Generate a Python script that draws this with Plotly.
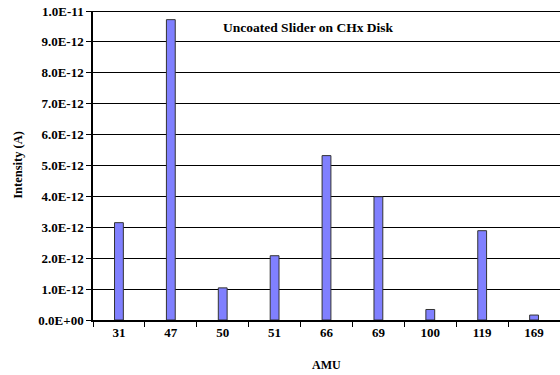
import plotly.graph_objects as go

categories = ["31", "47", "50", "51", "66", "69", "100", "119", "169"]
intensity = [3.15e-12, 9.72e-12, 1.04e-12, 2.08e-12, 5.32e-12, 3.99e-12, 0.34e-12, 2.89e-12, 0.16e-12]
ytick_vals = [i * 1e-12 for i in range(11)]
ytick_text = ["0.0E+00", "1.0E-12", "2.0E-12", "3.0E-12", "4.0E-12", "5.0E-12",
              "6.0E-12", "7.0E-12", "8.0E-12", "9.0E-12", "1.0E-11"]

FF = "Liberation Serif"
L, R, T, B = 93, 0, 11, 54.5
W, H = 560, 375
PW, PH = W - L - R, H - T - B

fig = go.Figure()
fig.add_trace(go.Bar(
    x=categories, y=intensity, width=0.17,
    marker=dict(color="#8080FF", line=dict(color="#333333", width=1)),
))

fig.update_layout(
    width=W, height=H,
    margin=dict(l=L, r=R, t=T, b=B),
    paper_bgcolor="white", plot_bgcolor="white",
    font=dict(family=FF, size=12, color="black"), showlegend=False,
    xaxis=dict(
        type="category", tickson="boundaries", ticks="outside", ticklen=5,
        tickcolor="black", showline=True, linecolor="black", linewidth=1.5,
        showgrid=False, automargin=False,
        tickvals=categories, ticktext=["<b>%s</b>" % c for c in categories],
        tickfont=dict(family=FF, size=13, color="black"),
    ),
    yaxis=dict(
        range=[0, 1e-11], tickvals=ytick_vals,
        ticktext=["<b>%s</b>" % t for t in ytick_text],
        ticks="outside", ticklen=5, tickcolor="black",
        showline=True, linecolor="black", linewidth=1.5,
        showgrid=True, gridcolor="black", gridwidth=1,
        zeroline=False, automargin=False,
        tickfont=dict(family=FF, size=13, color="black"),
    ),
)

fig.add_shape(type="line", xref="paper", yref="y", x0=0, x1=1, y0=1e-11, y1=1e-11,
              line=dict(color="black", width=2))

fig.add_annotation(
    x=(221 - L) / PW, y=(H - B - 28) / PH, xref="paper", yref="paper",
    xanchor="left", yanchor="middle",
    text="<b>Uncoated Slider on CHx Disk</b>", showarrow=False,
    font=dict(family=FF, size=13.5, color="black"),
)
fig.add_annotation(
    x=(326 - L) / PW, y=-(366 - (H - B)) / PH, xref="paper", yref="paper",
    xanchor="center", yanchor="middle", showarrow=False,
    text="<b>AMU</b>", font=dict(family=FF, size=12, color="black"),
)
fig.add_annotation(
    x=-(L - 18) / PW, y=((H - B) - 165) / PH, xref="paper", yref="paper",
    xanchor="center", yanchor="middle", showarrow=False, textangle=-90,
    text="<b>Intensity (A)</b>", font=dict(family=FF, size=12.5, color="black"),
)

fig.write_html("out.html", config={"displayModeBar": False},
               post_script="document.body.style.margin='0';document.body.style.overflow='hidden';")
